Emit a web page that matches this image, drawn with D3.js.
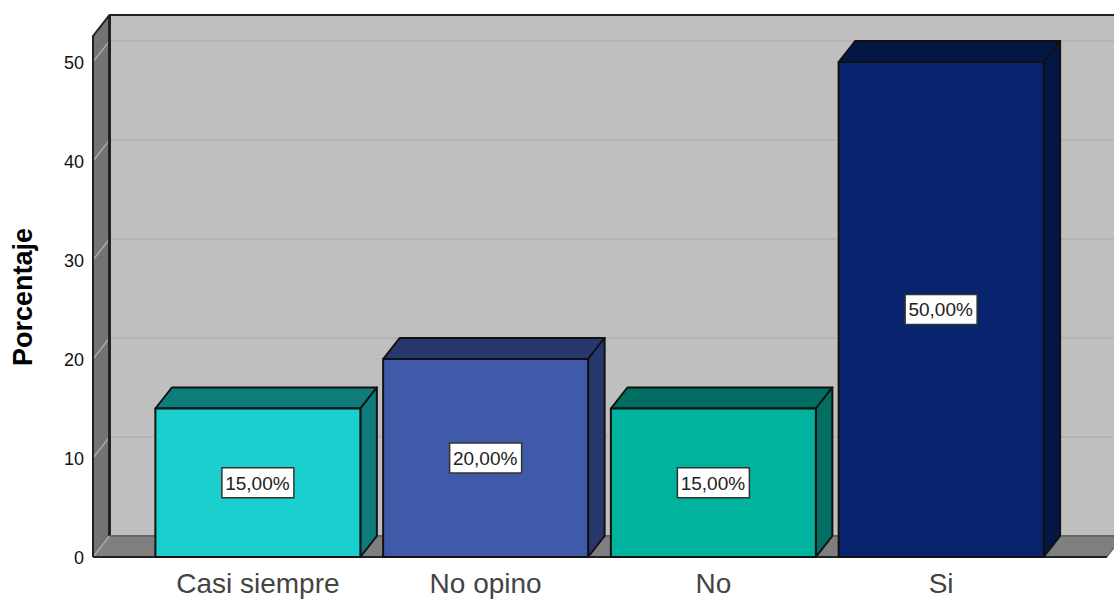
<!DOCTYPE html>
<html>
<head>
<meta charset="utf-8">
<script src="https://cdn.jsdelivr.net/npm/d3@7"></script>
<style>
html,body{margin:0;padding:0;background:#fff;overflow:hidden}
svg{display:block}
text{font-family:"Liberation Sans",Arial,sans-serif}
</style>
</head>
<body>
<svg id="chart" width="1114" height="599"></svg>
<script>
// Survey answers and their share of responses
const categories = ["Casi siempre", "No opino", "No", "Si"];
const percentages = [15, 20, 15, 50];
const valueLabels = ["15,00%", "20,00%", "15,00%", "50,00%"];
const yTicks = [0, 10, 20, 30, 40, 50];
const frontColors = ["#1CCFCF", "#3F5AA8", "#00B39E", "#08246F"];
const topColors = ["#0F7C7C", "#27386C", "#006E60", "#041643"];
const sideColors = ["#0F7C7C", "#27386C", "#006E60", "#041643"];

const svg = d3.select("#chart");
const depthX = 16.5, depthY = 21;         // oblique offset of the 3D extrusion
const plotLeft = 93, plotRight = 1107;
const y = d3.scaleLinear().domain([0, 50]).range([557, 62]);
const yTop = 36;
const x = d3.scaleBand().domain(categories).range([144, 1055]).paddingInner(0.1).paddingOuter(0.05);
const poly = pts => pts.map(p => p.join(",")).join(" ");

// Back wall
svg.append("rect").attr("x", plotLeft + depthX).attr("y", yTop - depthY)
  .attr("width", 1114 - plotLeft - depthX).attr("height", y(0) - yTop)
  .attr("fill", "#BFBFBF");

// Left wall
svg.append("polygon")
  .attr("points", poly([[plotLeft, yTop], [plotLeft + depthX, yTop - depthY], [plotLeft + depthX, y(0) - depthY], [plotLeft, y(0)]]))
  .attr("fill", "#737373");

// Floor
svg.append("polygon")
  .attr("points", poly([[plotLeft, y(0)], [plotLeft + depthX, y(0) - depthY], [plotRight + depthX, y(0) - depthY], [plotRight, y(0)]]))
  .attr("fill", "#7F7F7F");

// Gridlines: across the back wall, then folding down the left wall
const grid = svg.append("g").attr("fill", "none");
grid.selectAll("line.back").data(yTicks.filter(d => d > 0)).join("line").attr("class", "back")
  .attr("x1", plotLeft + depthX).attr("x2", 1114)
  .attr("y1", d => y(d) - depthY).attr("y2", d => y(d) - depthY)
  .attr("stroke", "#B3B3B3").attr("stroke-width", 2);
grid.selectAll("line.fold").data(yTicks).join("line").attr("class", "fold")
  .attr("x1", plotLeft).attr("x2", plotLeft + depthX)
  .attr("y1", d => y(d)).attr("y2", d => y(d) - depthY)
  .attr("stroke", "#A8A8A8").attr("stroke-width", 1.5);

// Frame edges
const edge = "#222";
const frame = svg.append("g").attr("stroke", edge).attr("stroke-width", 2).attr("fill", "none");
frame.append("polyline").attr("points", poly([[plotLeft, y(0)], [plotLeft, yTop], [plotLeft + depthX, yTop - depthY], [1114, yTop - depthY]]));
frame.append("line").attr("x1", plotLeft + depthX).attr("x2", plotLeft + depthX).attr("y1", yTop - depthY).attr("y2", y(0) - depthY).attr("stroke-width", 3);
frame.append("line").attr("x1", plotLeft + depthX).attr("x2", 1114).attr("y1", y(0) - depthY).attr("y2", y(0) - depthY).attr("stroke", "#666");
frame.append("line").attr("x1", plotLeft).attr("x2", plotRight).attr("y1", y(0)).attr("y2", y(0));
frame.append("line").attr("x1", plotRight).attr("x2", plotRight + depthX).attr("y1", y(0)).attr("y2", y(0) - depthY).attr("stroke-width", 1).attr("stroke", "#555");

// Extruded bars
const bars = svg.append("g").selectAll("g").data(percentages).join("g")
  .attr("stroke", "#111").attr("stroke-width", 2).attr("stroke-linejoin", "round");
const left = (d, i) => x(categories[i]);
const right = (d, i) => x(categories[i]) + x.bandwidth();
bars.append("polygon").attr("fill", (d, i) => topColors[i])
  .attr("points", (d, i) => poly([[left(d, i), y(d)], [left(d, i) + depthX, y(d) - depthY], [right(d, i) + depthX, y(d) - depthY], [right(d, i), y(d)]]));
bars.append("polygon").attr("fill", (d, i) => sideColors[i])
  .attr("points", (d, i) => poly([[right(d, i), y(d)], [right(d, i) + depthX, y(d) - depthY], [right(d, i) + depthX, y(0) - depthY], [right(d, i), y(0)]]));
bars.append("rect").attr("fill", (d, i) => frontColors[i])
  .attr("x", (d, i) => left(d, i)).attr("y", d => y(d))
  .attr("width", x.bandwidth()).attr("height", d => y(0) - y(d));

// Value labels boxed at the middle of each bar
const labels = svg.append("g").selectAll("g").data(percentages).join("g")
  .attr("transform", (d, i) => `translate(${left(d, i) + x.bandwidth() / 2},${y(d / 2)})`);
labels.append("rect").attr("x", -36).attr("y", -15).attr("width", 72).attr("height", 30)
  .attr("fill", "#fff").attr("stroke", "#333").attr("stroke-width", 1.5);
labels.append("text").attr("text-anchor", "middle").attr("x", -0.5).attr("dy", "0.36em")
  .attr("font-size", 19).attr("fill", "#222").text((d, i) => valueLabels[i]);

// Value axis labels
const yAxis = svg.append("g").attr("transform", `translate(${plotLeft},1)`)
  .call(d3.axisLeft(y).tickValues(yTicks).tickSize(0).tickPadding(9));
yAxis.select(".domain").remove();
yAxis.selectAll("text").attr("font-size", 18).attr("font-family", "'Liberation Sans',Arial,sans-serif").attr("fill", "#111");

// Category axis labels
const xAxis = svg.append("g").attr("transform", `translate(0,${y(0)})`)
  .call(d3.axisBottom(x).tickSize(0).tickPadding(16));
xAxis.select(".domain").remove();
xAxis.selectAll("text").attr("font-size", 28).attr("font-family", "'Liberation Sans',Arial,sans-serif").attr("fill", "#444");

// Value axis title
svg.append("text").attr("transform", "translate(32,297) rotate(-90)")
  .attr("text-anchor", "middle").attr("font-size", 27).attr("font-weight", "bold").attr("fill", "#000")
  .text("Porcentaje");
</script>
</body>
</html>
